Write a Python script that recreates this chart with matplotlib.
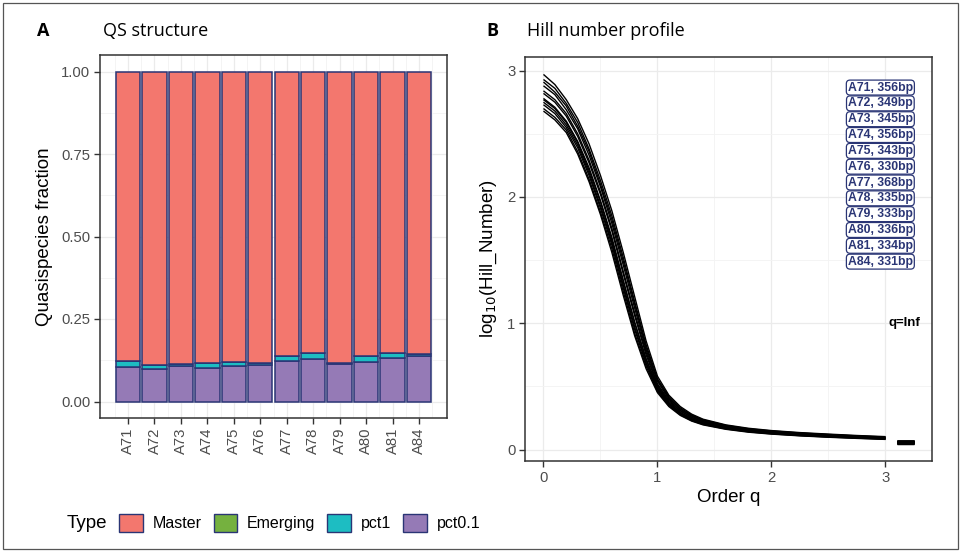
import matplotlib
matplotlib.use("Agg")
import matplotlib.pyplot as plt
from matplotlib.patches import Rectangle, Patch
from matplotlib.ticker import FixedLocator

plt.rcParams['font.family'] = ['Liberation Sans', 'DejaVu Sans']

# ---------------- data ----------------
samples = ["A71", "A72", "A73", "A74", "A75", "A76", "A77", "A78", "A79", "A80", "A81", "A84"]
amplicon_bp = [356, 349, 345, 356, 343, 330, 368, 335, 333, 336, 334, 331]

frac_pct01 = [0.106, 0.099, 0.109, 0.103, 0.108, 0.111, 0.124, 0.129, 0.113, 0.119, 0.132, 0.137]
frac_pct1 = [0.018, 0.012, 0.005, 0.014, 0.012, 0.007, 0.015, 0.019, 0.005, 0.020, 0.016, 0.008]
frac_emerging = [0.0] * 12
frac_master = [0.876, 0.889, 0.886, 0.883, 0.880, 0.882, 0.861, 0.852, 0.882, 0.861, 0.852, 0.855]

type_names = ["Master", "Emerging", "pct1", "pct0.1"]
type_colors = ["#F3776E", "#75B13F", "#1DBDC2", "#957AB6"]

q_order = [0, 0.1, 0.2, 0.3, 0.4, 0.5, 0.6, 0.7, 0.8, 0.9, 1.0, 1.1, 1.2, 1.3, 1.4, 1.6, 1.8, 2.0, 2.25, 2.5, 2.75, 3.0]
hill_log10 = [
    [2.97, 2.89, 2.77, 2.62, 2.42, 2.17, 1.89, 1.56, 1.21, 0.86, 0.58, 0.43, 0.34, 0.280, 0.240, 0.195, 0.168, 0.150, 0.134, 0.122, 0.111, 0.102],
    [2.93, 2.86, 2.74, 2.59, 2.38, 2.13, 1.85, 1.52, 1.17, 0.83, 0.56, 0.42, 0.33, 0.273, 0.235, 0.191, 0.164, 0.147, 0.131, 0.119, 0.108, 0.099],
    [2.91, 2.83, 2.72, 2.56, 2.36, 2.10, 1.82, 1.49, 1.15, 0.81, 0.55, 0.41, 0.32, 0.268, 0.231, 0.188, 0.161, 0.144, 0.129, 0.117, 0.106, 0.097],
    [2.88, 2.81, 2.69, 2.54, 2.33, 2.08, 1.79, 1.46, 1.12, 0.79, 0.54, 0.40, 0.32, 0.264, 0.227, 0.185, 0.159, 0.142, 0.126, 0.115, 0.104, 0.095],
    [2.84, 2.77, 2.66, 2.50, 2.29, 2.04, 1.75, 1.41, 1.08, 0.77, 0.52, 0.39, 0.31, 0.256, 0.221, 0.180, 0.155, 0.138, 0.123, 0.111, 0.101, 0.093],
    [2.82, 2.75, 2.64, 2.48, 2.27, 2.02, 1.73, 1.39, 1.06, 0.75, 0.51, 0.38, 0.305, 0.253, 0.218, 0.178, 0.153, 0.136, 0.121, 0.110, 0.100, 0.091],
    [2.78, 2.71, 2.60, 2.44, 2.23, 1.97, 1.68, 1.34, 1.01, 0.72, 0.50, 0.37, 0.295, 0.245, 0.211, 0.173, 0.148, 0.132, 0.117, 0.106, 0.096, 0.088],
    [2.77, 2.70, 2.59, 2.43, 2.21, 1.96, 1.66, 1.33, 1.00, 0.71, 0.49, 0.368, 0.292, 0.242, 0.209, 0.171, 0.147, 0.131, 0.116, 0.105, 0.095, 0.087],
    [2.75, 2.68, 2.57, 2.41, 2.19, 1.93, 1.64, 1.30, 0.97, 0.69, 0.48, 0.362, 0.287, 0.238, 0.206, 0.168, 0.144, 0.129, 0.114, 0.103, 0.094, 0.085],
    [2.73, 2.66, 2.55, 2.39, 2.17, 1.91, 1.62, 1.28, 0.95, 0.68, 0.47, 0.355, 0.282, 0.234, 0.203, 0.166, 0.142, 0.127, 0.112, 0.101, 0.092, 0.084],
    [2.70, 2.63, 2.53, 2.36, 2.14, 1.88, 1.59, 1.25, 0.92, 0.66, 0.46, 0.347, 0.276, 0.229, 0.199, 0.163, 0.140, 0.124, 0.110, 0.099, 0.090, 0.082],
    [2.68, 2.61, 2.51, 2.34, 2.12, 1.86, 1.56, 1.22, 0.90, 0.64, 0.45, 0.340, 0.270, 0.225, 0.195, 0.160, 0.137, 0.122, 0.108, 0.097, 0.088, 0.080],
]
hill_qinf = [0.062, 0.061, 0.060, 0.060, 0.059, 0.059, 0.058, 0.058, 0.057, 0.057, 0.056, 0.055]

# ---------------- figure ----------------
W, H = 961, 552
fig = plt.figure(figsize=(W / 100, H / 100), dpi=100)

def fx(px):
    return px / W

def fy(py):
    return 1 - py / H

navy = "#2A3575"
frame_col = "#333333"
tick_col = "#4D4D4D"
grid_major = "#EBEBEB"
grid_minor = "#F3F3F3"
title_font = ["Open Sans", "DejaVu Sans"]

# figure border
fig.add_artist(Rectangle((fx(3), fy(549)), fx(955), 546 / H, transform=fig.transFigure,
                         fill=False, edgecolor="#555555", linewidth=0.9))

# ---------------- panel A ----------------
ax1 = fig.add_axes([fx(100), fy(418), fx(347), 363 / H])
x = list(range(len(samples)))
stack = [frac_pct01, frac_pct1, frac_emerging, frac_master]
stack_cols = [type_colors[3], type_colors[2], type_colors[1], type_colors[0]]
bottom = [0.0] * len(samples)
for vals, col in zip(stack, stack_cols):
    ax1.bar(x, vals, bottom=bottom, width=0.92, color=col, edgecolor=navy, linewidth=1.1, zorder=3)
    bottom = [b + v for b, v in zip(bottom, vals)]

ax1.set_xlim(-1.06, len(samples) - 1 + 1.06)
ax1.set_ylim(-0.05, 1.05)
ax1.set_xticks(x)
ax1.set_xticklabels(samples, rotation=90)
ax1.xaxis.set_minor_locator(FixedLocator([i + 0.5 for i in range(-2, len(samples) + 1)]))
ax1.set_yticks([0, 0.25, 0.5, 0.75, 1.0])
ax1.set_yticklabels(["0.00", "0.25", "0.50", "0.75", "1.00"])
ax1.yaxis.set_minor_locator(FixedLocator([0.125, 0.375, 0.625, 0.875]))
ax1.grid(which="major", color=grid_major, linewidth=0.9, zorder=0)
ax1.grid(which="minor", color=grid_minor, linewidth=0.6, zorder=0)
ax1.set_axisbelow(True)
ax1.tick_params(which="major", length=4, width=1, color=frame_col, labelcolor=tick_col, labelsize=10.7, pad=3)
ax1.tick_params(which="minor", length=0)
for s in ax1.spines.values():
    s.set_color(frame_col)
    s.set_linewidth(1.1)
ax1.set_ylabel("Quasispecies fraction", fontsize=13.5, labelpad=6)

fig.text(fx(37), fy(31), "A", fontsize=13, fontweight="bold", family=title_font, va="center", ha="left")
fig.text(fx(103), fy(31), "QS structure", fontsize=13, family=title_font, va="center", ha="left")

# ---------------- panel B ----------------
ax2 = fig.add_axes([fx(525), fy(461), fx(407), 404 / H])
for vals in hill_log10:
    ax2.plot(q_order, vals, color="black", linewidth=1.0, zorder=3, solid_capstyle="butt")
for v in hill_qinf:
    ax2.plot([3.1, 3.25], [v, v], color="black", linewidth=2.5, zorder=3, solid_capstyle="butt")

ax2.text(3.165, 1.0, "q=Inf", fontsize=9.5, fontweight="bold", ha="center", va="center", zorder=4)

label_top = 2.866
label_step = 0.1253
for i, (s, bp) in enumerate(zip(samples, amplicon_bp)):
    ax2.text(2.955, label_top - i * label_step, f"{s}, {bp}bp", fontsize=8.8, fontweight="bold",
             color=navy, ha="center", va="center", zorder=5,
             bbox=dict(boxstyle="round,pad=0.12,rounding_size=0.3", facecolor="white",
                       edgecolor=navy, linewidth=0.9))

ax2.set_xlim(-0.162, 3.408)
ax2.set_ylim(-0.091, 3.108)
ax2.set_xticks([0, 1, 2, 3])
ax2.set_yticks([0, 1, 2, 3])
ax2.xaxis.set_minor_locator(FixedLocator([0.5, 1.5, 2.5]))
ax2.yaxis.set_minor_locator(FixedLocator([0.5, 1.5, 2.5]))
ax2.grid(which="major", color=grid_major, linewidth=0.9, zorder=0)
ax2.grid(which="minor", color=grid_minor, linewidth=0.6, zorder=0)
ax2.set_axisbelow(True)
ax2.tick_params(which="major", length=4, width=1, color=frame_col, labelcolor=tick_col, labelsize=10.7, pad=3)
ax2.tick_params(which="minor", length=0)
for s in ax2.spines.values():
    s.set_color(frame_col)
    s.set_linewidth(1.1)
ax2.set_xlabel("Order q", fontsize=13.5, labelpad=3)
ax2.set_ylabel(r"log$_{10}$(Hill_Number)", fontsize=13.5, labelpad=6)

fig.text(fx(486), fy(31), "B", fontsize=13, fontweight="bold", family=title_font, va="center", ha="left")
fig.text(fx(527), fy(31), "Hill number profile", fontsize=13, family=title_font, va="center", ha="left")

# ---------------- legend ----------------
handles = [Patch(facecolor=c, edgecolor=navy, linewidth=1.0) for c in type_colors]
fig.text(fx(67), fy(523), "Type", fontsize=13.5, va="center", ha="left")
fig.legend(handles, type_names, ncol=4, loc="center left", bbox_to_anchor=(fx(119), fy(523)),
           frameon=False, fontsize=11.5, handlelength=1.5, handleheight=1.45,
           handletextpad=0.6, columnspacing=0.75, borderpad=0, borderaxespad=0)

fig.savefig("out.png", dpi=100)
